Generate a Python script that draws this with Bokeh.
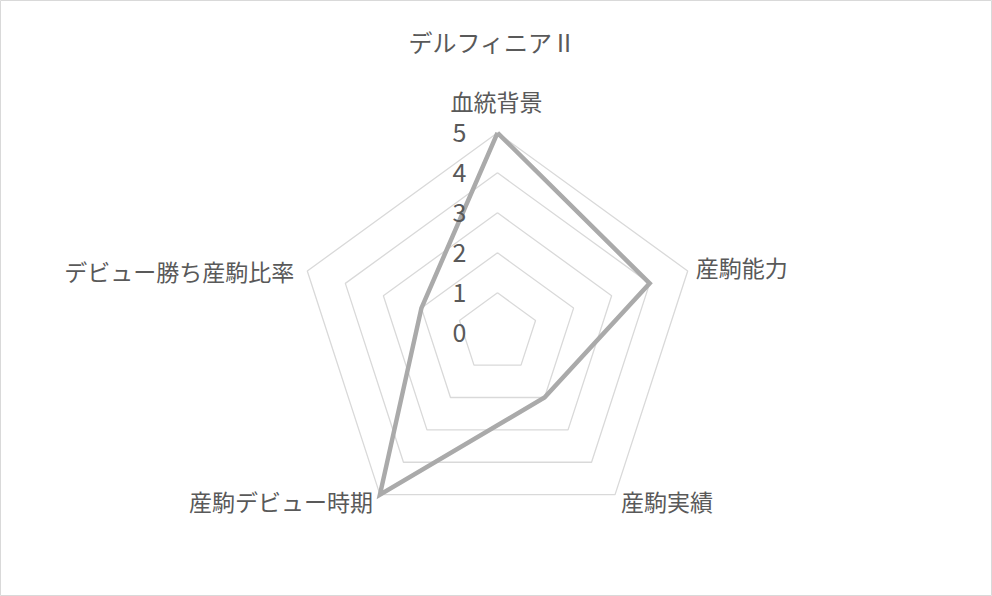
import math
from bokeh.plotting import figure
from bokeh.models import Range1d, Label
from bokeh.core.properties import value
from bokeh.embed import file_html
from bokeh.resources import INLINE

# ---- data ----
title_text = "デルフィニアⅡ"
categories = ["血統背景", "産駒能力", "産駒実績", "産駒デビュー時期", "デビュー勝ち産駒比率"]
values = [5, 4, 2, 5, 2]
tick_values = [0, 1, 2, 3, 4, 5]
tick_labels = ["0", "1", "2", "3", "4", "5"]
max_value = 5

# ---- style ----
FONT = "Noto Sans CJK JP"
TEXT_COLOR = "#595959"
GRID_COLOR = "#D9D9D9"
LINE_COLOR = "#AAAAAA"
PX_PER_UNIT = 40.0
W, H = 992, 596
CX, CY = 497.0, 332.3  # centre in figure pixels (from top-left)
label_align = ["center", "left", "left", "right", "right"]
label_xoff = [-1, 8, 6, -7, -13]
label_yoff = [-32, -4, 6, 6, 0]

n = len(categories)
angles = [math.pi / 2 - 2 * math.pi * i / n for i in range(n)]

def polar(r, a):
    return r * math.cos(a), r * math.sin(a)

p = figure(width=W, height=H, output_backend="svg", toolbar_location=None,
           x_range=Range1d(-CX / PX_PER_UNIT, (W - CX) / PX_PER_UNIT),
           y_range=Range1d(-(H - CY) / PX_PER_UNIT, CY / PX_PER_UNIT),
           min_border=0)
p.axis.visible = False
p.grid.visible = False
p.outline_line_color = GRID_COLOR
p.outline_line_width = 1
p.background_fill_color = "white"
p.border_fill_color = "white"

# grid pentagons
for t in tick_values[1:]:
    xs = [polar(t, a)[0] for a in angles] + [polar(t, angles[0])[0]]
    ys = [polar(t, a)[1] for a in angles] + [polar(t, angles[0])[1]]
    p.line(xs, ys, line_color=GRID_COLOR, line_width=1.3)

# data polygon
dx = [polar(v, a)[0] for v, a in zip(values, angles)]
dy = [polar(v, a)[1] for v, a in zip(values, angles)]
p.line(dx + dx[:1], dy + dy[:1], line_color=LINE_COLOR, line_width=4.5,
       line_join="miter")

# tick labels along the top spoke
tx = [polar(t, angles[0])[0] for t in tick_values]
ty = [polar(t, angles[0])[1] for t in tick_values]
p.text(tx, ty, text=tick_labels, x_offset=-31, text_align="right",
       text_baseline="middle", text_font=value(FONT), text_font_size="25px",
       text_color=TEXT_COLOR)

# category labels
for i, c in enumerate(categories):
    x, y = polar(max_value, angles[i])
    p.text([x], [y], text=[c], x_offset=label_xoff[i], y_offset=label_yoff[i],
           text_align=label_align[i], text_baseline="middle",
           text_font=value(FONT), text_font_size="23px", text_color=TEXT_COLOR)

# title
p.add_layout(Label(x=CX - 5, y=H - 41, x_units="screen", y_units="screen",
                   text=title_text, text_align="center", text_baseline="middle",
                   text_font=FONT, text_font_size="24px", text_color=TEXT_COLOR))

open("out.html", "w").write(file_html(p, INLINE))
